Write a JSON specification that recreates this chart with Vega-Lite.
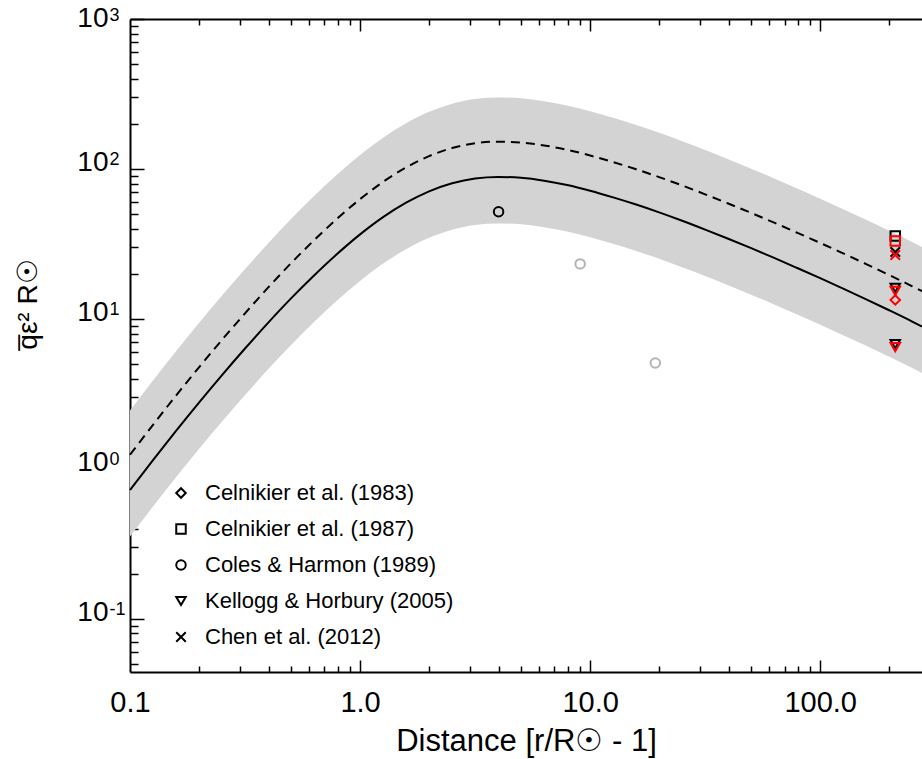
{
  "$schema": "https://vega.github.io/schema/vega-lite/v6.json",
  "width": 792,
  "height": 653,
  "autosize": "none",
  "padding": {"left": 130, "top": 19, "right": 0, "bottom": 87},
  "background": "white",
  "config": {
    "view": {"stroke": null},
    "font": "Liberation Sans",
    "axis": {"grid": false, "tickColor": "black", "domainColor": "black", "labelColor": "black", "titleColor": "black"}
  },
  "datasets": {
    "curves": [
      {"x": 0.1, "s": 0.724, "d": 1.244, "lo": 0.355, "hi": 2.453},
      {"x": 0.1259, "s": 1.146, "d": 1.969, "lo": 0.562, "hi": 3.883},
      {"x": 0.1585, "s": 1.795, "d": 3.084, "lo": 0.88, "hi": 6.082},
      {"x": 0.1995, "s": 2.773, "d": 4.764, "lo": 1.359, "hi": 9.395},
      {"x": 0.2512, "s": 4.227, "d": 7.262, "lo": 2.071, "hi": 14.32},
      {"x": 0.3162, "s": 6.353, "d": 10.91, "lo": 3.113, "hi": 21.52},
      {"x": 0.3981, "s": 9.419, "d": 16.18, "lo": 4.615, "hi": 31.91},
      {"x": 0.5012, "s": 13.71, "d": 23.55, "lo": 6.718, "hi": 46.45},
      {"x": 0.631, "s": 19.5, "d": 33.5, "lo": 9.555, "hi": 66.07},
      {"x": 0.7943, "s": 27.1, "d": 46.56, "lo": 13.28, "hi": 91.81},
      {"x": 1.0, "s": 36.64, "d": 62.95, "lo": 17.95, "hi": 124.1},
      {"x": 1.259, "s": 47.75, "d": 82.04, "lo": 23.4, "hi": 161.8},
      {"x": 1.585, "s": 59.57, "d": 102.3, "lo": 29.19, "hi": 201.8},
      {"x": 1.995, "s": 70.96, "d": 121.9, "lo": 34.77, "hi": 240.4},
      {"x": 2.512, "s": 80.35, "d": 138.0, "lo": 39.37, "hi": 272.2},
      {"x": 3.162, "s": 86.5, "d": 148.6, "lo": 42.39, "hi": 293.1},
      {"x": 3.981, "s": 88.51, "d": 152.1, "lo": 43.37, "hi": 299.9},
      {"x": 5.012, "s": 87.3, "d": 150.0, "lo": 42.78, "hi": 295.8},
      {"x": 6.31, "s": 83.56, "d": 143.6, "lo": 40.94, "hi": 283.1},
      {"x": 7.943, "s": 78.16, "d": 134.3, "lo": 38.3, "hi": 264.8},
      {"x": 10, "s": 71.61, "d": 123.0, "lo": 35.09, "hi": 242.6},
      {"x": 12.59, "s": 64.71, "d": 111.2, "lo": 31.71, "hi": 219.2},
      {"x": 15.85, "s": 57.94, "d": 99.54, "lo": 28.39, "hi": 196.3},
      {"x": 19.95, "s": 51.4, "d": 88.31, "lo": 25.19, "hi": 174.1},
      {"x": 25.12, "s": 45.19, "d": 77.64, "lo": 22.14, "hi": 153.1},
      {"x": 31.62, "s": 39.45, "d": 67.78, "lo": 19.33, "hi": 133.7},
      {"x": 39.81, "s": 34.28, "d": 58.89, "lo": 16.8, "hi": 116.1},
      {"x": 50.12, "s": 29.65, "d": 50.94, "lo": 14.53, "hi": 100.5},
      {"x": 63.1, "s": 25.53, "d": 43.86, "lo": 12.51, "hi": 86.5},
      {"x": 79.43, "s": 21.88, "d": 37.59, "lo": 10.72, "hi": 74.1},
      {"x": 100, "s": 18.71, "d": 32.14, "lo": 9.17, "hi": 63.4},
      {"x": 125.9, "s": 15.92, "d": 27.35, "lo": 7.8, "hi": 53.9},
      {"x": 158.5, "s": 13.52, "d": 23.23, "lo": 6.62, "hi": 45.8},
      {"x": 199.5, "s": 11.43, "d": 19.64, "lo": 5.6, "hi": 38.7},
      {"x": 251.2, "s": 9.616, "d": 16.52, "lo": 4.71, "hi": 32.6},
      {"x": 277, "s": 8.91, "d": 15.31, "lo": 4.37, "hi": 30.2}
    ],
    "coles": [
      {"x": 4.0, "y": 51.9, "study": "Coles & Harmon (1989)", "c": "black"},
      {"x": 9.05, "y": 23.3, "study": "Coles & Harmon (1989)", "c": "#b4b4b4"},
      {"x": 19.2, "y": 5.09, "study": "Coles & Harmon (1989)", "c": "#b4b4b4"}
    ],
    "cluster": [
      {"x": 212, "y": 35.8, "study": "Celnikier et al. (1987)", "c": "black"},
      {"x": 212, "y": 28.0, "study": "Chen et al. (2012)", "c": "black"},
      {"x": 212, "y": 16.1, "study": "Kellogg & Horbury (2005)", "c": "black"},
      {"x": 212, "y": 6.8, "study": "Kellogg & Horbury (2005)", "c": "black"},
      {"x": 212, "y": 33.1, "study": "Celnikier et al. (1987)", "c": "red"},
      {"x": 212, "y": 26.7, "study": "Chen et al. (2012)", "c": "red"},
      {"x": 212, "y": 15.4, "study": "Kellogg & Horbury (2005)", "c": "red"},
      {"x": 212, "y": 13.4, "study": "Celnikier et al. (1983)", "c": "red"},
      {"x": 212, "y": 6.5, "study": "Kellogg & Horbury (2005)", "c": "red"}
    ]
  },
  "resolve": {"axis": {"x": "independent", "y": "independent"}},
  "layer": [
    {
      "data": {"name": "curves"},
      "mark": {"type": "area", "color": "#d3d3d3", "interpolate": "monotone"},
      "encoding": {
        "x": {
          "field": "x", "type": "quantitative",
          "scale": {"type": "log", "domain": [0.1, 277], "nice": false},
          "axis": {
            "orient": "bottom", "ticks": false, "domain": true, "domainWidth": 2,
            "values": [0.1, 1, 10, 100],
            "labelExpr": "datum.value < 0.5 ? '0.1' : datum.value < 5 ? '1.0' : datum.value < 50 ? '10.0' : '100.0'",
            "labelFlush": false, "labelOverlap": false, "labelBound": false,
            "labelFont": "Liberation Sans", "labelFontSize": 29, "labelPadding": 39, "labelBaseline": "alphabetic",
            "title": "Distance [r/R☉ - 1]", "titleFont": "Liberation Sans", "titleFontSize": 31, "titleFontWeight": "normal",
            "titleBaseline": "alphabetic", "titleY": 78
          }
        },
        "y": {
          "field": "lo", "type": "quantitative",
          "scale": {"type": "log", "domain": [0.0443, 1000], "nice": false},
          "axis": {
            "orient": "left", "ticks": false, "domain": true, "domainWidth": 2,
            "values": [0.1, 1, 10, 100, 1000],
            "labelExpr": "'10'",
            "labelFlush": false, "labelOverlap": false, "labelBound": false,
            "labelFont": "Liberation Sans", "labelFontSize": 28, "labelPadding": 22, "labelAlign": "right",
            "labelBaseline": "alphabetic",
            "labelOffset": {"condition": {"test": "datum.value > 500", "value": 7}, "value": 2},
            "title": "q\u0305ε² R☉", "titleFont": "Liberation Sans", "titleFontSize": 28, "titleFontWeight": "normal",
            "titleAngle": -90, "titleBaseline": "middle", "titleAlign": "center", "titleX": -102, "titleY": 285
          }
        },
        "y2": {"field": "hi"}
      }
    },
    {
      "data": {"name": "curves"},
      "mark": {"type": "line", "color": "black", "strokeWidth": 2, "strokeDash": [9, 6], "interpolate": "monotone"},
      "encoding": {
        "x": {
          "field": "x", "type": "quantitative",
          "scale": {"type": "log", "domain": [0.1, 277], "nice": false},
          "axis": {"orient": "top", "offset": -653, "labels": false, "domain": false, "title": null, "values": [1, 10, 100], "tickSize": 12, "tickWidth": 1.5}
        },
        "y": {
          "field": "d", "type": "quantitative",
          "scale": {"type": "log", "domain": [0.0443, 1000], "nice": false},
          "axis": {
            "orient": "left", "ticks": false, "domain": false, "title": null,
            "values": [0.1, 1, 10, 100, 1000],
            "labelExpr": "datum.value < 0.5 ? '-1' : datum.value < 5 ? '0' : datum.value < 50 ? '1' : datum.value < 500 ? '2' : '3'",
            "labelFlush": false, "labelOverlap": false, "labelBound": false,
            "labelFont": "Liberation Sans", "labelFontSize": 18, "labelPadding": 21, "labelAlign": "left",
            "labelBaseline": "alphabetic",
            "labelOffset": {"condition": {"test": "datum.value > 500", "value": 1}, "value": -4}
          }
        }
      }
    },
    {
      "data": {"name": "curves"},
      "mark": {"type": "line", "color": "black", "strokeWidth": 2, "interpolate": "monotone"},
      "encoding": {
        "x": {
          "field": "x", "type": "quantitative",
          "scale": {"type": "log", "domain": [0.1, 277], "nice": false},
          "axis": {"orient": "top", "offset": -653, "labels": false, "domain": false, "title": null, "values": [0.2, 0.3, 0.4, 0.5, 0.6, 0.7, 0.8, 0.9, 2, 3, 4, 5, 6, 7, 8, 9, 20, 30, 40, 50, 60, 70, 80, 90, 200], "tickSize": 6, "tickWidth": 1.5}
        },
        "y": {
          "field": "s", "type": "quantitative",
          "scale": {"type": "log", "domain": [0.0443, 1000], "nice": false},
          "axis": {"orient": "right", "offset": -792, "labels": false, "domain": false, "title": null, "values": [0.1, 1, 10, 100, 1000], "tickSize": 14, "tickWidth": 1.5}
        }
      }
    },
    {
      "data": {"name": "coles"},
      "mark": {"type": "point", "filled": false, "strokeWidth": 2, "size": 90, "opacity": 1},
      "encoding": {
        "x": {
          "field": "x", "type": "quantitative",
          "scale": {"type": "log", "domain": [0.1, 277], "nice": false},
          "axis": {"orient": "bottom", "offset": -653, "labels": false, "domain": false, "title": null, "values": [1, 10, 100], "tickSize": 12, "tickWidth": 1.5}
        },
        "y": {
          "field": "y", "type": "quantitative",
          "scale": {"type": "log", "domain": [0.0443, 1000], "nice": false},
          "axis": {"orient": "right", "offset": -792, "labels": false, "domain": false, "title": null, "values": [0.05, 0.06, 0.07, 0.08, 0.09, 0.2, 0.3, 0.4, 0.5, 0.6, 0.7, 0.8, 0.9, 2, 3, 4, 5, 6, 7, 8, 9, 20, 30, 40, 50, 60, 70, 80, 90, 200, 300, 400, 500, 600, 700, 800, 900], "tickSize": 8, "tickWidth": 1.5}
        },
        "color": {"field": "c", "type": "nominal", "scale": null},
        "shape": {
          "field": "study", "type": "nominal",
          "scale": {
            "domain": ["Celnikier et al. (1983)", "Celnikier et al. (1987)", "Coles & Harmon (1989)", "Kellogg & Horbury (2005)", "Chen et al. (2012)"],
            "range": ["diamond", "square", "circle", "triangle-down", "M-1,-1L1,1M-1,1L1,-1"]
          },
          "legend": {
            "orient": "none", "legendX": 40, "legendY": 463, "title": null, "padding": 0,
            "symbolStrokeColor": "black", "symbolFillColor": "transparent", "symbolStrokeWidth": 2, "symbolSize": 90,
            "labelFont": "Liberation Sans", "labelFontSize": 22, "labelColor": "black", "labelOffset": 13, "labelLimit": 0, "rowPadding": 14
          }
        }
      }
    },
    {
      "data": {"name": "cluster"},
      "mark": {"type": "point", "filled": false, "strokeWidth": 2, "size": 90, "opacity": 1},
      "encoding": {
        "x": {
          "field": "x", "type": "quantitative",
          "scale": {"type": "log", "domain": [0.1, 277], "nice": false},
          "axis": {"orient": "top", "labels": false, "domain": true, "domainWidth": 2, "title": null, "ticks": false}
        },
        "y": {
          "field": "y", "type": "quantitative",
          "scale": {"type": "log", "domain": [0.0443, 1000], "nice": false},
          "axis": null
        },
        "color": {"field": "c", "type": "nominal", "scale": null},
        "shape": {
          "field": "study", "type": "nominal",
          "scale": {
            "domain": ["Celnikier et al. (1983)", "Celnikier et al. (1987)", "Coles & Harmon (1989)", "Kellogg & Horbury (2005)", "Chen et al. (2012)"],
            "range": ["diamond", "square", "circle", "triangle-down", "M-1,-1L1,1M-1,1L1,-1"]
          },
          "legend": {
            "orient": "none", "legendX": 40, "legendY": 463, "title": null, "padding": 0,
            "symbolStrokeColor": "black", "symbolFillColor": "transparent", "symbolStrokeWidth": 2, "symbolSize": 90,
            "labelFont": "Liberation Sans", "labelFontSize": 22, "labelColor": "black", "labelOffset": 13, "labelLimit": 0, "rowPadding": 14
          }
        }
      }
    },
    {
      "data": {"name": "curves"},
      "mark": {"type": "line", "opacity": 0, "interpolate": "monotone"},
      "encoding": {
        "x": {
          "field": "x", "type": "quantitative",
          "scale": {"type": "log", "domain": [0.1, 277], "nice": false},
          "axis": {"orient": "bottom", "offset": -653, "labels": false, "domain": false, "title": null, "values": [0.2, 0.3, 0.4, 0.5, 0.6, 0.7, 0.8, 0.9, 2, 3, 4, 5, 6, 7, 8, 9, 20, 30, 40, 50, 60, 70, 80, 90, 200], "tickSize": 6, "tickWidth": 1.5}
        },
        "y": {
          "field": "s", "type": "quantitative",
          "scale": {"type": "log", "domain": [0.0443, 1000], "nice": false},
          "axis": null
        }
      }
    }
  ]
}
